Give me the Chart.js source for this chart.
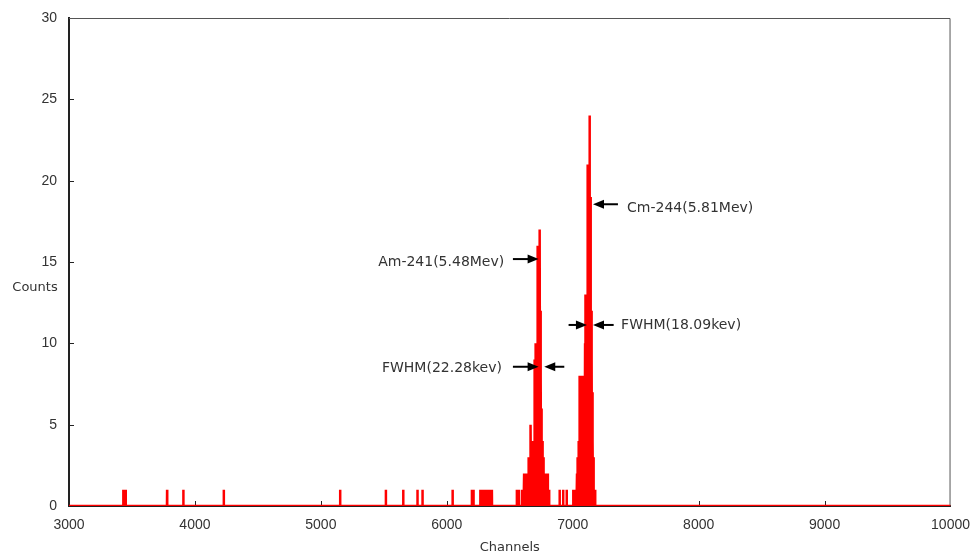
<!DOCTYPE html>
<html>
<head>
<meta charset="utf-8">
<script src="https://cdn.jsdelivr.net/npm/chart.js@4.4.0/dist/chart.umd.min.js"></script>
<style>
  body { margin: 0; background: #fff; }
  #wrap { width: 971px; height: 554px; }
</style>
</head>
<body>
<div id="wrap"><canvas id="spectrum"></canvas></div>
<script>
// Non-zero channels of the alpha spectrum and their counts (all other channels are 0)
const channels = [
  3431, 3450, 3779, 3908, 4229, 5153, 5516, 5654, 5767, 5807, 6046,
  6199, 6212, 6266, 6279, 6292, 6305, 6318, 6331, 6344, 6358,
  // Am-241 peak
  6556, 6572, 6598, 6606, 6614, 6620, 6628, 6636, 6644, 6650, 6656, 6662, 6668, 6674,
  6680, 6686, 6692, 6696, 6700, 6704, 6708, 6712, 6716, 6720, 6724, 6728, 6732, 6736,
  6740, 6744, 6748, 6752, 6756, 6762, 6768, 6774, 6784, 6794, 6802, 6812,
  // between the peaks
  6896, 6924, 6952, 7004, 7012, 7020, 7028,
  // Cm-244 peak
  7034, 7040, 7046, 7050, 7056, 7062, 7068, 7074, 7080, 7086, 7092, 7098, 7102, 7108,
  7112, 7116, 7120, 7124, 7128, 7132, 7136, 7140, 7144, 7148, 7152, 7156, 7160, 7166,
  7172, 7178
];
const counts = [
  1, 1, 1, 1, 1, 1, 1, 1, 1, 1, 1,
  1, 1, 1, 1, 1, 1, 1, 1, 1, 1,
  1, 1, 1, 1, 2, 1, 1, 2, 1, 3, 2, 4, 5, 3,
  4, 4, 3, 6, 9, 10, 7, 9, 10, 16, 13, 15, 14, 16,
  17, 12, 8, 6, 4, 3, 3, 2, 1, 2, 2, 1,
  1, 1, 1, 1, 1, 1, 1,
  2, 3, 4, 2, 8, 5, 8, 6, 8, 3, 1, 10, 13, 9,
  13, 17, 21, 15, 20, 21, 24, 19, 14, 12, 9, 7, 4, 3,
  1, 1
];
const xTicks = [3000, 4000, 5000, 6000, 7000, 8000, 9000, 10000];
const yTicks = [0, 5, 10, 15, 20, 25, 30];

// peak labels and arrows (data coordinates)
const noteTexts = ['Am-241(5.48Mev)', 'FWHM(22.28kev)', 'Cm-244(5.81Mev)', 'FWHM(18.09kev)'];
const noteX = [6456, 6438, 7431, 7384];
const noteY = [14.96, 8.47, 18.32, 11.13];
const noteAlign = ['right', 'right', 'left', 'left'];
const arrowFrom = [6525, 6525, 6933, 6967, 7325, 7359];
const arrowTo = [6729, 6729, 6774, 7113, 7161, 7161];
const arrowY = [15.18, 8.56, 8.56, 11.13, 11.13, 18.55];

// spectrum as a line: each filled channel is a spike from the empty channels beside it
const points = [{x: 3000, y: 0}];
channels.forEach((c, i) => {
  points.push({x: c - 1, y: 0});
  points.push({x: c, y: counts[i]});
  points.push({x: c + 1, y: 0});
});
points.push({x: 10000, y: 0});

const frame = {
  id: 'frame',
  beforeDatasetsDraw(chart) {
    const {ctx, chartArea: a, scales: {x, y}} = chart;
    ctx.save();
    // top and right frame
    ctx.strokeStyle = '#555';
    ctx.lineWidth = 1;
    ctx.beginPath();
    ctx.moveTo(a.left, a.top + 0.5);
    ctx.lineTo(a.right - 0.5, a.top + 0.5);
    ctx.lineTo(a.right - 0.5, a.bottom);
    ctx.stroke();
    // inside tick marks
    ctx.strokeStyle = '#222';
    ctx.beginPath();
    xTicks.slice(1, -1).forEach(v => {
      const px = Math.round(x.getPixelForValue(v)) + 0.5;
      ctx.moveTo(px, a.bottom);
      ctx.lineTo(px, a.bottom - 5);
    });
    yTicks.slice(1, -1).forEach(v => {
      const py = Math.round(y.getPixelForValue(v)) + 0.5;
      ctx.moveTo(a.left, py);
      ctx.lineTo(a.left + 5, py);
    });
    ctx.stroke();
    ctx.restore();
  },
  afterDatasetsDraw(chart) {
    const {ctx, chartArea: a, scales: {x, y}} = chart;
    ctx.save();
    ctx.fillStyle = '#333';
    ctx.font = '14px "DejaVu Sans"';
    ctx.textBaseline = 'middle';
    noteTexts.forEach((t, i) => {
      ctx.textAlign = noteAlign[i];
      ctx.fillText(t, x.getPixelForValue(noteX[i]), y.getPixelForValue(noteY[i]));
    });
    // arrows
    ctx.strokeStyle = '#000';
    ctx.fillStyle = '#000';
    ctx.lineWidth = 2;
    arrowFrom.forEach((f, i) => {
      const x0 = x.getPixelForValue(f);
      const x1 = x.getPixelForValue(arrowTo[i]);
      const py = y.getPixelForValue(arrowY[i]);
      const dir = x1 > x0 ? 1 : -1;
      ctx.beginPath();
      ctx.moveTo(x0, py);
      ctx.lineTo(x1 - dir * 8, py);
      ctx.stroke();
      ctx.beginPath();
      ctx.moveTo(x1, py);
      ctx.lineTo(x1 - dir * 11, py - 4.5);
      ctx.lineTo(x1 - dir * 11, py + 4.5);
      ctx.closePath();
      ctx.fill();
    });
    // axis titles
    ctx.fillStyle = '#333';
    ctx.font = '13px "DejaVu Sans"';
    ctx.textAlign = 'center';
    ctx.fillText('Counts', 35, y.getPixelForValue(13.4));
    ctx.fillText('Channels', (a.left + a.right) / 2, 548);
    ctx.restore();
  }
};

const ctx = document.getElementById('spectrum').getContext('2d');
new Chart(ctx, {
  type: 'line',
  data: {
    datasets: [{
      data: points,
      borderColor: '#ff0000',
      borderWidth: 2.5,
      pointRadius: 0,
      tension: 0,
      fill: false
    }]
  },
  options: {
    responsive: true,
    maintainAspectRatio: false,
    animation: false,
    parsing: false,
    layout: { padding: { left: 0, right: 0, top: 18, bottom: 0 } },
    plugins: { legend: { display: false }, tooltip: { enabled: false } },
    scales: {
      x: {
        type: 'linear',
        min: 3000,
        max: 10000,
        afterBuildTicks: s => { s.ticks = xTicks.map(v => ({value: v})); },
        afterFit: s => { s.height = 48; },
        grid: { display: false, drawTicks: true, tickLength: 10 },
        border: { color: '#222', width: 2 },
        ticks: { color: '#333', padding: 1, maxRotation: 0, callback: v => String(v),
                 font: { family: '"Liberation Sans"', size: 14 } }
      },
      y: {
        min: 0,
        max: 30,
        afterBuildTicks: s => { s.ticks = yTicks.map(v => ({value: v})); },
        afterFit: s => { s.width = 69; },
        grid: { display: false, drawTicks: true, tickLength: 10 },
        border: { color: '#222', width: 2 },
        ticks: { color: '#333', padding: 2, callback: v => String(v),
                 font: { family: '"Liberation Sans"', size: 14 } }
      }
    }
  },
  plugins: [frame]
});
</script>
</body>
</html>
